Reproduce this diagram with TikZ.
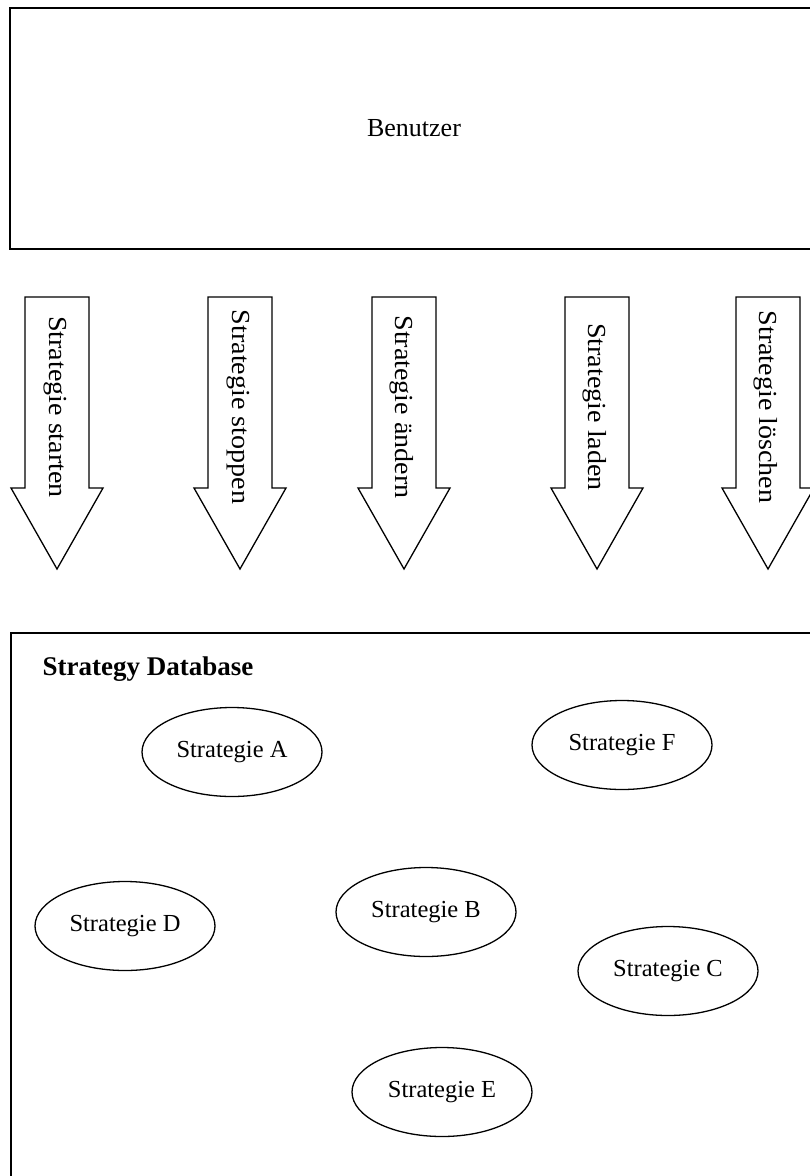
\documentclass[tikz,border=0pt]{standalone}
\usepackage{fontspec}
\setmainfont{Liberation Serif}
\usetikzlibrary{shapes.geometric,positioning}

\begin{document}
\begin{tikzpicture}[x=1pt, y=-1pt, line width=1.3pt,
    strategie/.style={draw, ellipse, inner sep=0pt, minimum width=180pt,
      minimum height=89pt, font=\fontsize{24.5}{29}\selectfont},
    aktion/.style={rotate=-90, xscale=1.08, inner sep=0pt,
      font=\fontsize{26}{31}\selectfont}]
  \useasboundingbox (0,0) rectangle (810,1176);
  \clip (0,0) rectangle (810,1176);

  % user box
  \draw (10,8) rectangle (830,249);
  \node [font=\fontsize{26}{31}\selectfont] (benutzer) at (414,128) {Benutzer};

  % actions
  \foreach \c/\name/\txt in {57/starten/{Strategie starten},
      240/stoppen/{Strategie stoppen}, 404/aendern/{Strategie ändern},
      597/laden/{Strategie laden}, 768/loeschen/{Strategie löschen}} {
    \draw (\c-32,297) -- (\c+32,297) -- (\c+32,488) -- (\c+46,488)
      -- (\c,569) -- (\c-46,488) -- (\c-32,488) -- cycle;
    \node [aktion] (\name) at (\c-2,407) {\txt};
  }

  % database
  \draw (11,633) rectangle (830,1200);
  \node [anchor=base west, inner sep=0pt, font=\bfseries\fontsize{27}{32}\selectfont] (db)
    at (42,675) {Strategy Database};

  \node [strategie] (sA) at (232,752) {Strategie A};
  \node [strategie] (sF) at (622,745) {Strategie F};
  \node [strategie] (sB) at (426,912) {Strategie B};
  \node [strategie] (sD) at (125,926) {Strategie D};
  \node [strategie] (sC) at (668,971) {Strategie C};
  \node [strategie] (sE) at (442,1092) {Strategie E};
\end{tikzpicture}
\end{document}
